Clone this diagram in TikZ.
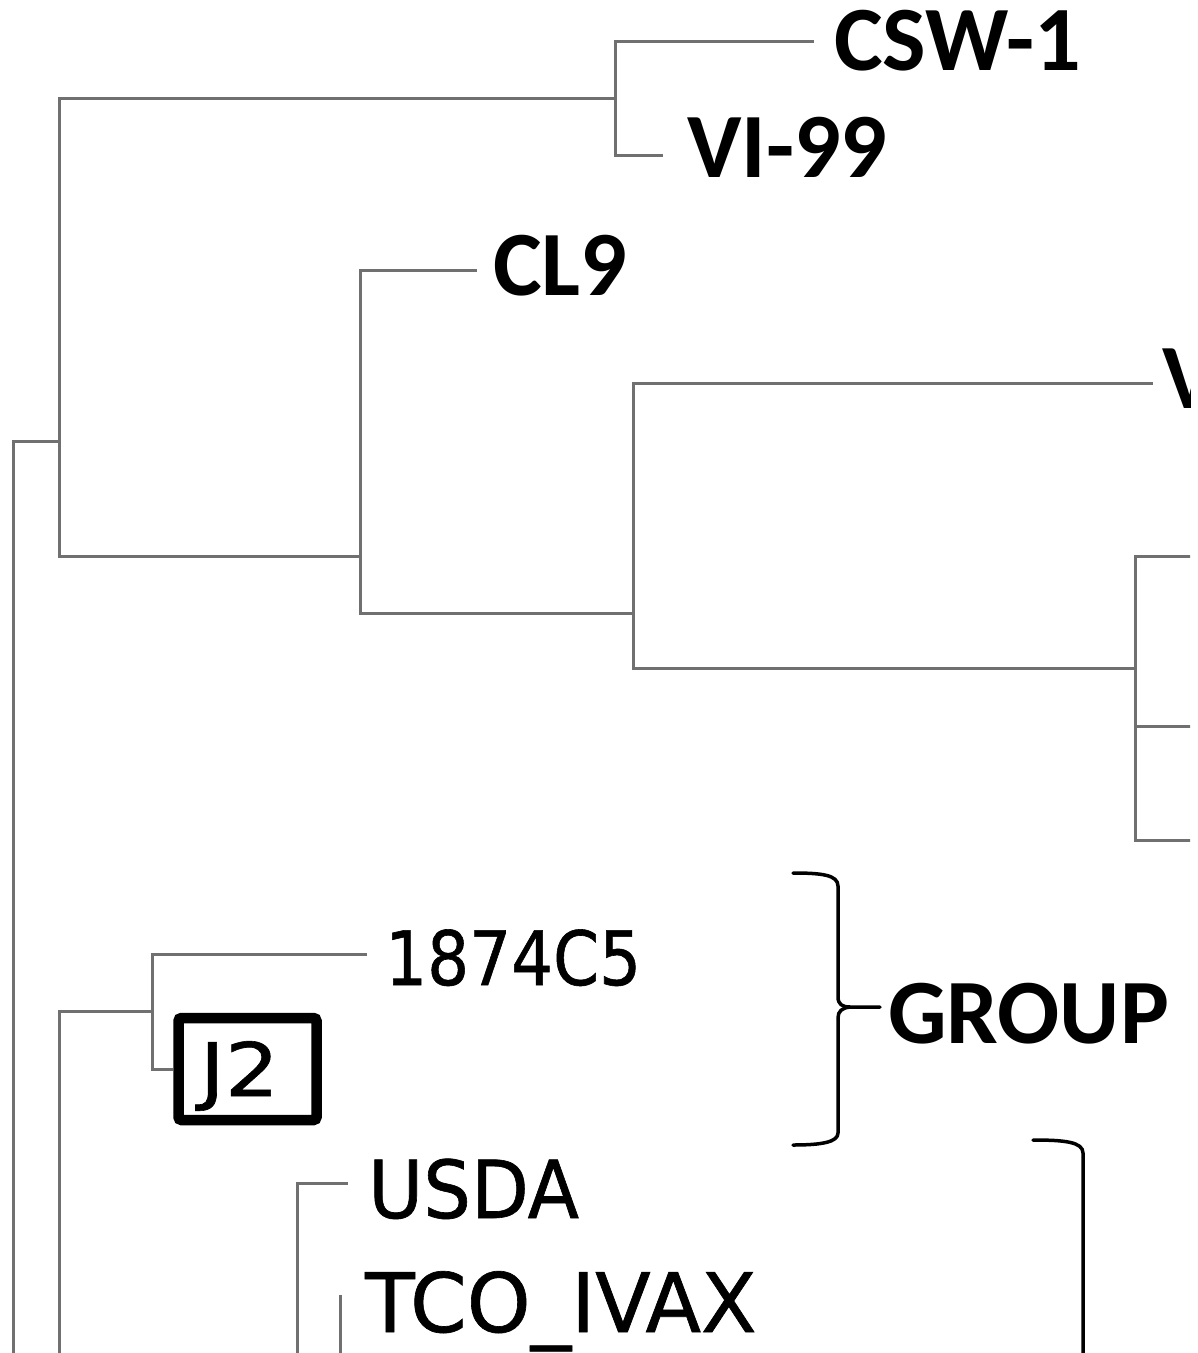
\documentclass[tikz,border=0pt]{standalone}
\usepackage{fontspec}
\usepackage{graphicx}
\newfontfamily\calb{Carlito}
\newfontfamily\dvs{DejaVu Sans}[FakeBold=0.8]
\definecolor{treegray}{RGB}{112,112,112}
\begin{document}
\begin{tikzpicture}[x=1pt,y=-1pt,
  branch/.style={draw=treegray,line width=3pt},
  boldlbl/.style={anchor=base west,inner sep=0pt,font=\calb\bfseries\fontsize{92}{92}\selectfont},
  plainlbl/.style={anchor=base west,inner sep=0pt},
  bracestroke/.style={draw=black,line width=3.5pt,line cap=round,line join=round}]
\useasboundingbox (0,0) rectangle (1198,1353);
\fill[white] (0,0) rectangle (1198,1353);
\begin{scope}
\clip (0,0) rectangle (1190,1353);
% internal nodes of the tree
\coordinate (root) at (13.5,441);
\coordinate (rootend) at (13.5,1353);
\coordinate (A) at (59,441);
\coordinate (B) at (615,98);
\coordinate (C) at (360,556);
\coordinate (D) at (633,613);
\coordinate (E) at (1135,668);
% leaf ends
\coordinate (cswE) at (814,41);
\coordinate (viE) at (663,155);
\coordinate (cl9E) at (477,270);
\coordinate (vE) at (1153,383);
\coordinate (e1) at (1196,556);
\coordinate (e2) at (1196,726);
\coordinate (e3) at (1196,840);
% upper clade
\draw[branch] (rootend) -- (root) -- (A);
\draw[branch] (A) |- (B);
\draw[branch] (A) |- (C);
\draw[branch] (B) |- (cswE);
\draw[branch] (B) |- (viE);
\draw[branch] (C) |- (cl9E);
\draw[branch] (C) |- (D);
\draw[branch] (D) |- (vE);
\draw[branch] (D) |- (E);
\draw[branch] (E) |- (e1);
\draw[branch] (E) |- (e2);
\draw[branch] (E) |- (e3);
% labels upper
\node[boldlbl] (csw) at (834,70) {CSW-1};
\node[boldlbl] (vi) at (687,177) {VI-99};
\node[boldlbl] (cl9) at (493,295) {CL9};
\node[boldlbl] (vpart) at (1162,408) {V};
% lower clade
\coordinate (F) at (59,1011);
\coordinate (Fend) at (59,1353);
\coordinate (G) at (152,1011);
\coordinate (g1874) at (367,954);
\node[draw=black,line width=10.5pt,rounded corners=3pt,minimum width=138pt,minimum height=102pt,inner sep=0pt,
      text height=54pt,text depth=0pt,font=\dvs\fontsize{74}{74}\selectfont] (j2) at (247.5,1069)
      {\hspace*{-16pt}\scalebox{1.15}[1]{J2}};
\draw[branch] (Fend) -- (F) -- (G);
\draw[branch] (G) |- (g1874);
\draw[branch] (G) |- (j2.west);
\coordinate (U) at (297,1183);
\coordinate (Uend) at (297,1353);
\coordinate (usdaE) at (348,1183);
\draw[branch] (Uend) -- (U) -- (usdaE);
\coordinate (T) at (340,1295);
\coordinate (Tend) at (340,1353);
\draw[branch] (Tend) -- (T);
\node[plainlbl,font=\dvs\fontsize{75}{75}\selectfont] (l1874) at (385,985) {\scalebox{0.88}[1]{1874C5}};
\node[plainlbl,font=\dvs\fontsize{80}{80}\selectfont] (usda) at (368,1218) {\scalebox{0.94}[1]{USDA}};
\node[plainlbl,font=\dvs\fontsize{82}{82}\selectfont] (tco) at (365,1332) {\scalebox{0.99}[1]{TCO\_IVAX}};
% braces
\coordinate (tip) at (880,1007);
\node[boldlbl] (group) at (888,1043) {GROUP};
\draw[bracestroke] (793,873) .. controls (822,873) and (838,875) .. (838,886) -- (838,997)
   .. controls (838,1004) and (842,1007) .. (850,1007) -- (tip);
\draw[bracestroke] (850,1007) .. controls (842,1008) and (838,1011) .. (838,1018) -- (838,1133)
   .. controls (838,1142) and (822,1145) .. (793,1145);
\draw[bracestroke] (1033,1140) .. controls (1065,1140) and (1083,1142) .. (1083,1153) -- (1083,1353);
\end{scope}
\end{tikzpicture}
\end{document}
